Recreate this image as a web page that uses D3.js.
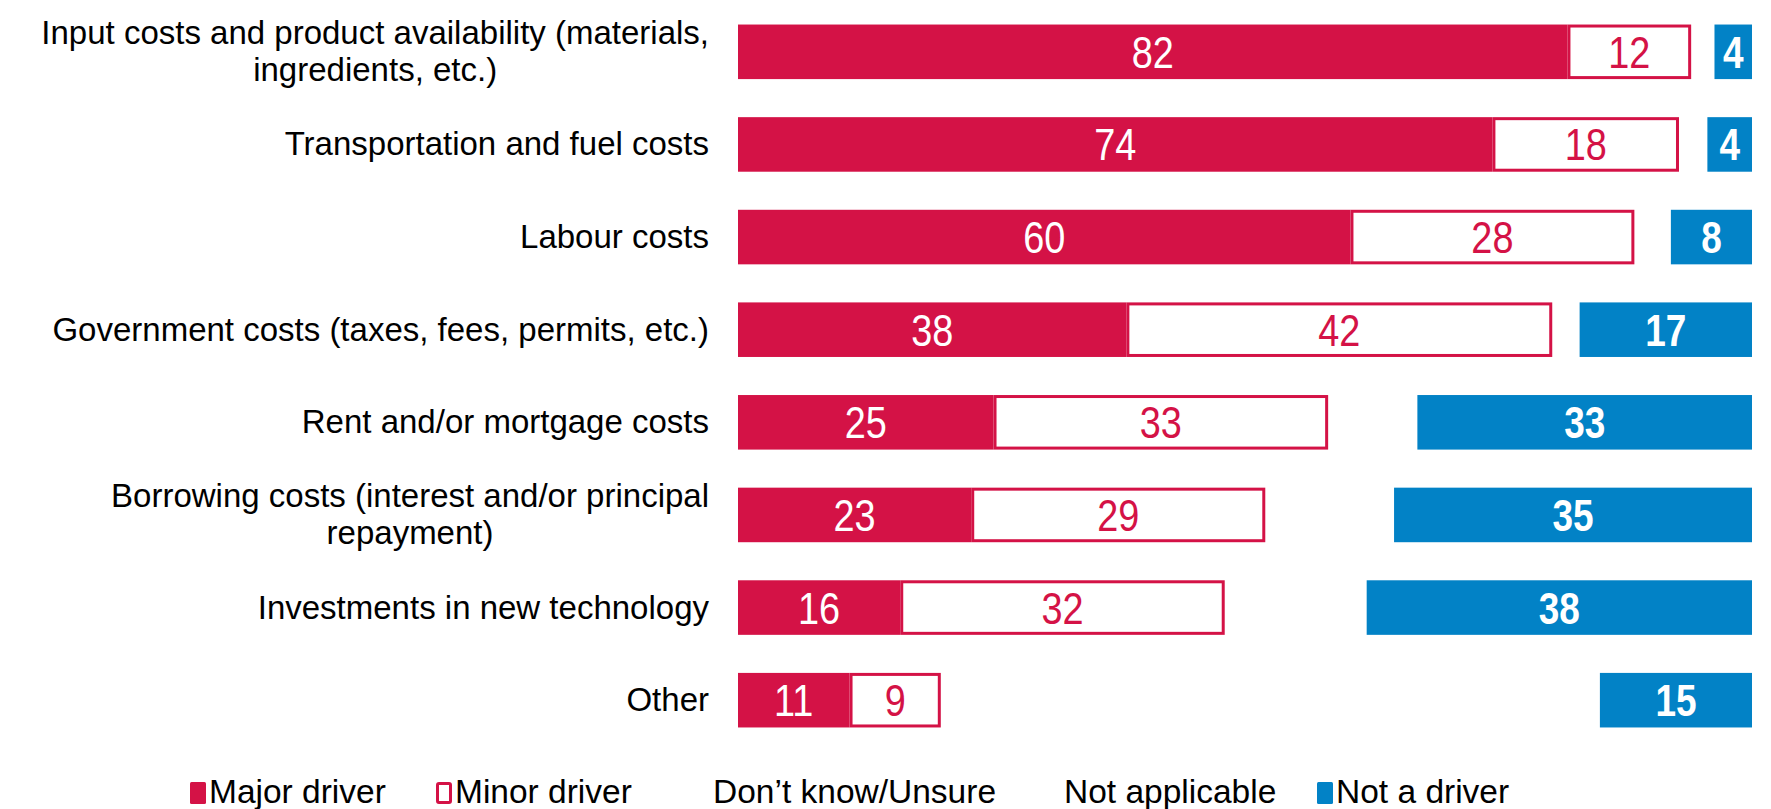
<!DOCTYPE html>
<html>
<head>
<meta charset="utf-8">
<script src="https://cdn.jsdelivr.net/npm/d3@7"></script>
<style>
  html, body { margin: 0; padding: 0; background: #ffffff; }
  svg { display: block; }
</style>
</head>
<body>
<div id="chart"></div>
<script>
// Cost drivers, share of respondents (%). Stacked left to right:
// major, minor, don't know, not applicable, not a driver.
const categories = [
  "Input costs and product availability (materials, ingredients, etc.)",
  "Transportation and fuel costs",
  "Labour costs",
  "Government costs (taxes, fees, permits, etc.)",
  "Rent and/or mortgage costs",
  "Borrowing costs (interest and/or principal repayment)",
  "Investments in new technology",
  "Other"
];
const majorDriver   = [81.8, 74.4, 60.4, 38.3, 25.2, 23, 16, 11];
const minorDriver   = [12.2, 18.4, 28, 42, 33, 29, 32, 9];
const dontKnow      = [1, 1.4, 2, 1.7, 3, 4, 6, 5];
const notApplicable = [1.3, 1.4, 1.6, 1, 5.8, 8.7, 8, 60];
const notADriver    = [3.7, 4.4, 8, 17, 33, 35.3, 38, 15];

const seriesKeys   = ["major", "minor", "dontKnow", "notApplicable", "notDriver"];
const legendLabels = ["Major driver", "Minor driver", "Don\u2019t know/Unsure", "Not applicable", "Not a driver"];

const W = 1771, H = 809;
const RED = "#d41246", BLUE = "#0282c6";
const LABEL_FONT = "'Liberation Sans', Arial, sans-serif";
const VALUE_FONT = "'Liberation Sans', Arial, sans-serif";

const rows = categories.map((c, i) => ({
  category: c,
  major: majorDriver[i],
  minor: minorDriver[i],
  dontKnow: dontKnow[i],
  notApplicable: notApplicable[i],
  notDriver: notADriver[i]
}));

const stacked = d3.stack().keys(seriesKeys)(rows);

const x = d3.scaleLinear().domain([0, 100]).range([738, 1752]);
const y = d3.scaleBand().domain(categories).range([5.5, 746.5])
  .paddingInner(0.411).paddingOuter(0.2055);

const svg = d3.select("#chart").append("svg")
  .attr("width", W).attr("height", H)
  .attr("viewBox", `0 0 ${W} ${H}`);

// Bars
const styleFor = {
  major:        { fill: RED,   stroke: "none", text: "#ffffff", weight: 400, squeeze: 0.86 },
  minor:        { fill: "#ffffff", stroke: RED, text: RED, weight: 400, squeeze: 0.86 },
  dontKnow:     null,
  notApplicable: null,
  notDriver:    { fill: BLUE,  stroke: "none", text: "#ffffff", weight: 700, squeeze: 0.84 }
};

for (const layer of stacked) {
  const st = styleFor[layer.key];
  if (!st) continue;
  const g = svg.append("g").attr("class", "series-" + layer.key);
  const sw = st.stroke === "none" ? 0 : 3;
  g.selectAll("rect")
    .data(layer)
    .join("rect")
      .attr("x", d => x(d[0]) + sw / 2)
      .attr("y", d => y(d.data.category) + sw / 2)
      .attr("width", d => Math.max(0, x(d[1]) - x(d[0]) - sw))
      .attr("height", y.bandwidth() - sw)
      .attr("fill", st.fill)
      .attr("stroke", st.stroke)
      .attr("stroke-width", sw);

  g.selectAll("text")
    .data(layer)
    .join("text")
      .attr("x", d => (x(d[0]) + x(d[1])) / 2)
      .attr("y", d => y(d.data.category) + y.bandwidth() / 2 + 16)
      .attr("text-anchor", "middle")
      .attr("font-family", VALUE_FONT)
      .attr("font-size", 44)
      .attr("font-weight", st.weight)
      .attr("fill", st.text)
      .text(d => Math.round(d[1] - d[0]))
      // the original digits are a condensed face; squeeze the stock one
      .each(function () {
        const len = this.getComputedTextLength();
        d3.select(this)
          .attr("textLength", len * st.squeeze)
          .attr("lengthAdjust", "spacingAndGlyphs");
      });
}

// Category labels: wrapped, lines centred on each other, block right-aligned
const LABEL_RIGHT = 709, LABEL_MAX = 700, LINE_H = 37;
const gLabels = svg.append("g")
  .attr("font-family", LABEL_FONT)
  .attr("font-size", 33)
  .attr("fill", "#000000");

for (const c of categories) {
  const t = gLabels.append("text").attr("text-anchor", "middle");
  const words = c.split(" ");
  const lines = [];
  let cur = "";
  for (const w of words) {
    const trial = cur ? cur + " " + w : w;
    t.text(trial);
    if (cur && t.node().getComputedTextLength() > LABEL_MAX) {
      lines.push(cur);
      cur = w;
    } else {
      cur = trial;
    }
  }
  lines.push(cur);
  const widths = lines.map(l => { t.text(l); return t.node().getComputedTextLength(); });
  t.text(null);
  const cx = LABEL_RIGHT - d3.max(widths) / 2;
  const mid = y(c) + y.bandwidth() / 2;
  const y0 = mid + 11 - ((lines.length - 1) * LINE_H) / 2;
  t.selectAll("tspan")
    .data(lines)
    .join("tspan")
      .attr("x", cx)
      .attr("y", (_, i) => y0 + i * LINE_H)
      .text(d => d);
}

// Legend
const LEGEND_X = [190, 436, 694, 1045, 1317];
const LEGEND_BASE = 803;
const legendSwatch = [
  { fill: RED, stroke: "none" },
  { fill: "#ffffff", stroke: RED },
  null,
  null,
  { fill: BLUE, stroke: "none" }
];
const gLegend = svg.append("g").attr("class", "legend");
legendLabels.forEach((lab, i) => {
  const sw = legendSwatch[i];
  if (sw) {
    const s = sw.stroke === "none" ? 0 : 3;
    gLegend.append("rect")
      .attr("x", LEGEND_X[i] + s / 2)
      .attr("y", 782 + s / 2)
      .attr("width", 16 - s)
      .attr("height", 22 - s)
      .attr("rx", 1.5)
      .attr("fill", sw.fill)
      .attr("stroke", sw.stroke)
      .attr("stroke-width", s);
  }
  gLegend.append("text")
    .attr("x", LEGEND_X[i] + 19)
    .attr("y", LEGEND_BASE)
    .attr("font-family", LABEL_FONT)
    .attr("font-size", 33.5)
    .attr("fill", "#000000")
    .text(lab);
});
</script>
</body>
</html>
